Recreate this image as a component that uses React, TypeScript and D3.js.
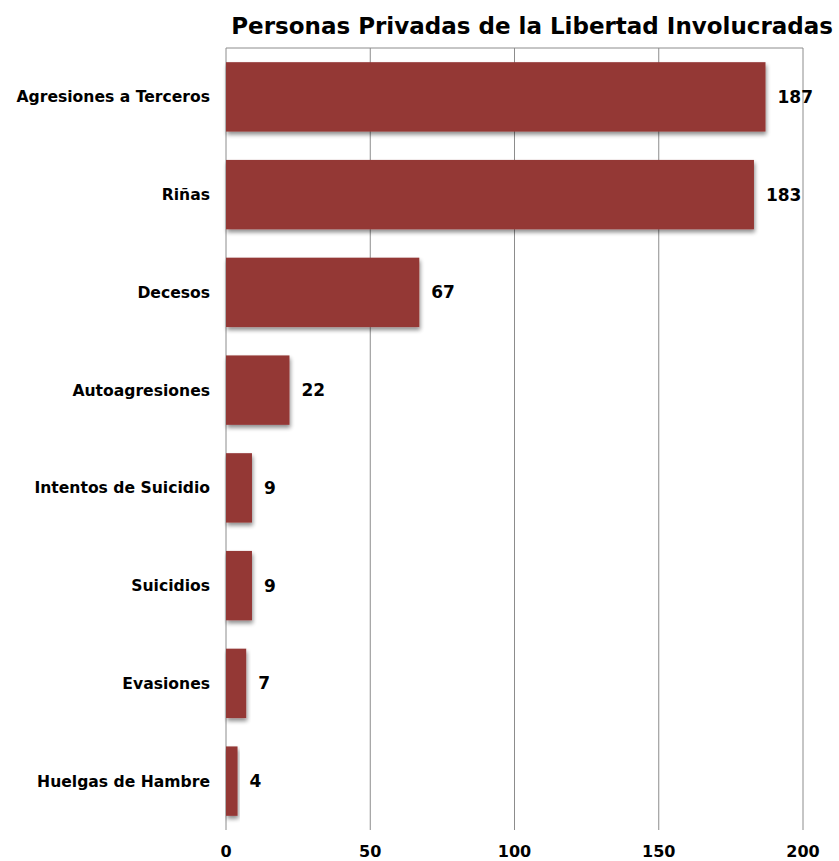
import React from "react";
import * as d3 from "d3";

const categories = [
  "Agresiones a Terceros",
  "Riñas",
  "Decesos",
  "Autoagresiones",
  "Intentos de Suicidio",
  "Suicidios",
  "Evasiones",
  "Huelgas de Hambre",
];
const values = [187, 183, 67, 22, 9, 9, 7, 4];
const xTicks = [0, 50, 100, 150, 200];
const title = "Personas Privadas de la Libertad Involucradas";

const W = 839;
const H = 861;
const margin = { left: 226, right: 36, top: 48, bottom: 31 };
const FONT = "'DejaVu Sans', sans-serif";

export default function App() {
  const x = d3.scaleLinear().domain([0, 200]).range([margin.left, W - margin.right]);
  const y = d3
    .scaleBand<string>()
    .domain(categories)
    .range([margin.top, H - margin.bottom])
    .paddingInner(0.29)
    .paddingOuter(0.145);

  return (
    <svg
      width={W}
      height={H}
      style={{ position: "absolute", left: 0, top: 0, background: "#fff" }}
    >
      <defs>
        <filter id="shadow" x="-10%" y="-20%" width="130%" height="150%">
          <feGaussianBlur in="SourceAlpha" stdDeviation="2" />
          <feOffset dx="1" dy="3" result="ob" />
          <feComponentTransfer>
            <feFuncA type="linear" slope="0.45" />
          </feComponentTransfer>
          <feMerge>
            <feMergeNode />
            <feMergeNode in="SourceGraphic" />
          </feMerge>
        </filter>
      </defs>
      <text
        x={833}
        y={34}
        textAnchor="end"
        fontFamily={FONT}
        fontWeight="bold"
        fontSize={23}
        fill="#000"
      >
        {title}
      </text>
      <line
        x1={x(0)}
        x2={x(200)}
        y1={margin.top}
        y2={margin.top}
        stroke="#8c8c8c"
        strokeWidth={1}
      />
      {xTicks.map((t) => (
        <g key={t}>
          <line
            x1={x(t)}
            x2={x(t)}
            y1={margin.top}
            y2={H - margin.bottom}
            stroke="#8c8c8c"
            strokeWidth={1}
          />
          <text
            x={x(t)}
            y={857}
            textAnchor="middle"
            fontFamily={FONT}
            fontWeight="bold"
            fontSize={16}
            fill="#000"
          >
            {t}
          </text>
        </g>
      ))}
      {categories.map((c, i) => {
        const by = y(c)!;
        const bh = y.bandwidth();
        return (
          <g key={c}>
            <rect
              x={x(0)}
              y={by}
              width={x(values[i]) - x(0)}
              height={bh}
              fill="#943735"
              filter="url(#shadow)"
            />
            <text
              x={210}
              y={by + bh / 2}
              dy="0.35em"
              textAnchor="end"
              fontFamily={FONT}
              fontWeight="bold"
              fontSize={15.6}
              fill="#000"
            >
              {c}
            </text>
            <text
              x={x(values[i]) + 12}
              y={by + bh / 2}
              dy="0.35em"
              textAnchor="start"
              fontFamily={FONT}
              fontWeight="bold"
              fontSize={17}
              fill="#000"
            >
              {values[i]}
            </text>
          </g>
        );
      })}
    </svg>
  );
}
